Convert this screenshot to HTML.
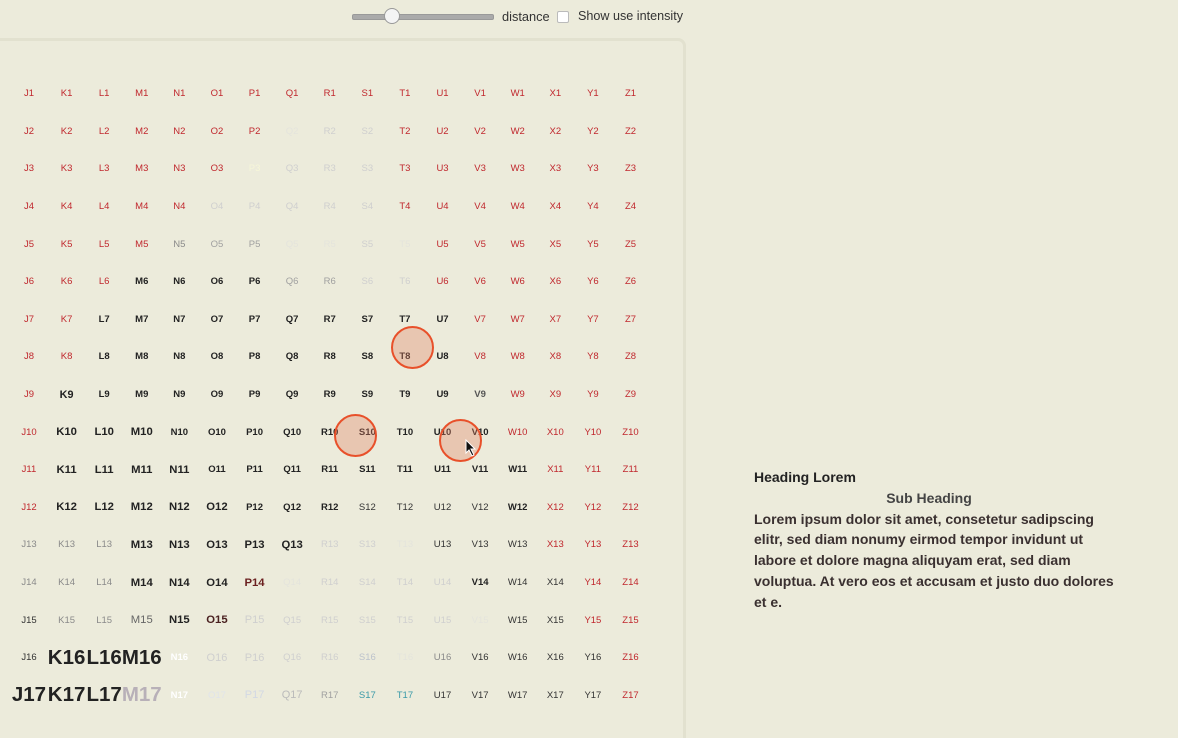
<!DOCTYPE html>
<html><head><meta charset="utf-8"><style>
body{margin:0;width:1178px;height:719px;background:#ecebdb;font-family:"Liberation Sans",Arial,sans-serif;position:relative;overflow:hidden}
.panel{position:absolute;left:-10px;top:38px;width:696px;height:700px;border-top:3px solid #e2e1cf;border-right:3px solid #e2e1cf;border-radius:0 8px 0 0;box-sizing:border-box}
.grid{position:absolute;left:10.2px;top:75px;display:grid;grid-template-columns:repeat(17,37.6px);grid-auto-rows:37.6px}
.grid div{display:flex;align-items:center;justify-content:center;white-space:nowrap;font-size:9.5px;overflow:visible}
.r{color:#c0272d}.k{color:#222;font-weight:bold}.b{color:#222;font-weight:bold;font-size:11.3px!important}
.d{color:#333}.g{color:#8a8a8a}.f{color:#cfcfcf}.ff{color:#e4e4dc}.g2{color:#a0a0a0}
.h{color:#222;font-weight:bold;font-size:20.5px!important}.w{color:#fff;font-weight:bold}
.t{color:#3a9aa8}
.c{position:absolute;width:40px;height:40px;border-radius:50%;border:2px solid #e8502a;background:rgba(225,130,100,.35);box-sizing:border-box}
.txt{position:absolute;left:754px;top:467px;width:360px;font-weight:bold;font-size:14px;line-height:20.8px;color:#3a3030}
</style></head><body>
<div style="position:absolute;left:352px;top:14px;width:140px;height:4px;background:#aaa;border-radius:2px;border:1px solid #999"></div>
<div style="position:absolute;left:384px;top:8px;width:14px;height:14px;border-radius:50%;background:#f4f4f4;border:1px solid #999"></div>
<div style="position:absolute;left:502px;top:9px;font-size:12.8px;color:#333">distance</div>
<div style="position:absolute;left:557px;top:11px;width:10px;height:10px;background:#fff;border:1px solid #bbb;border-radius:2px"></div>
<div style="position:absolute;left:578px;top:9px;font-size:12.6px;color:#333">Show use intensity</div>
<div class="panel"></div>
<div class="grid">
<div class="r">J1</div><div class="r">K1</div><div class="r">L1</div><div class="r">M1</div><div class="r">N1</div><div class="r">O1</div><div class="r">P1</div><div class="r">Q1</div><div class="r">R1</div><div class="r">S1</div><div class="r">T1</div><div class="r">U1</div><div class="r">V1</div><div class="r">W1</div><div class="r">X1</div><div class="r">Y1</div><div class="r">Z1</div>
<div class="r">J2</div><div class="r">K2</div><div class="r">L2</div><div class="r">M2</div><div class="r">N2</div><div class="r">O2</div><div class="r">P2</div><div class="ff">Q2</div><div class="f">R2</div><div class="f">S2</div><div class="r">T2</div><div class="r">U2</div><div class="r">V2</div><div class="r">W2</div><div class="r">X2</div><div class="r">Y2</div><div class="r">Z2</div>
<div class="r">J3</div><div class="r">K3</div><div class="r">L3</div><div class="r">M3</div><div class="r">N3</div><div class="r">O3</div><div style="color:#f6f6d8">P3</div><div class="f">Q3</div><div class="f">R3</div><div class="f">S3</div><div class="r">T3</div><div class="r">U3</div><div class="r">V3</div><div class="r">W3</div><div class="r">X3</div><div class="r">Y3</div><div class="r">Z3</div>
<div class="r">J4</div><div class="r">K4</div><div class="r">L4</div><div class="r">M4</div><div class="r">N4</div><div class="f">O4</div><div class="f">P4</div><div class="f">Q4</div><div class="f">R4</div><div class="f">S4</div><div class="r">T4</div><div class="r">U4</div><div class="r">V4</div><div class="r">W4</div><div class="r">X4</div><div class="r">Y4</div><div class="r">Z4</div>
<div class="r">J5</div><div class="r">K5</div><div class="r">L5</div><div class="r">M5</div><div class="g">N5</div><div class="g2">O5</div><div class="g2">P5</div><div class="ff">Q5</div><div class="ff">R5</div><div class="f">S5</div><div class="ff">T5</div><div class="r">U5</div><div class="r">V5</div><div class="r">W5</div><div class="r">X5</div><div class="r">Y5</div><div class="r">Z5</div>
<div class="r">J6</div><div class="r">K6</div><div class="r">L6</div><div class="k">M6</div><div class="k">N6</div><div class="k">O6</div><div class="k">P6</div><div class="g2">Q6</div><div class="g2">R6</div><div class="f">S6</div><div class="f">T6</div><div class="r">U6</div><div class="r">V6</div><div class="r">W6</div><div class="r">X6</div><div class="r">Y6</div><div class="r">Z6</div>
<div class="r">J7</div><div class="r">K7</div><div class="k">L7</div><div class="k">M7</div><div class="k">N7</div><div class="k">O7</div><div class="k">P7</div><div class="k">Q7</div><div class="k">R7</div><div class="k">S7</div><div class="k">T7</div><div class="k">U7</div><div class="r">V7</div><div class="r">W7</div><div class="r">X7</div><div class="r">Y7</div><div class="r">Z7</div>
<div class="r">J8</div><div class="r">K8</div><div class="k">L8</div><div class="k">M8</div><div class="k">N8</div><div class="k">O8</div><div class="k">P8</div><div class="k">Q8</div><div class="k">R8</div><div class="k">S8</div><div class="k">T8</div><div class="k">U8</div><div class="r">V8</div><div class="r">W8</div><div class="r">X8</div><div class="r">Y8</div><div class="r">Z8</div>
<div class="r">J9</div><div class="b" style="font-size:10.8px!important">K9</div><div class="k">L9</div><div class="k">M9</div><div class="k">N9</div><div class="k">O9</div><div class="k">P9</div><div class="k">Q9</div><div class="k">R9</div><div class="k">S9</div><div class="k">T9</div><div class="k">U9</div><div class="k" style="color:#555">V9</div><div class="r">W9</div><div class="r">X9</div><div class="r">Y9</div><div class="r">Z9</div>
<div class="r">J10</div><div class="b">K10</div><div class="b">L10</div><div class="b">M10</div><div class="k">N10</div><div class="k">O10</div><div class="k">P10</div><div class="k">Q10</div><div class="k">R10</div><div class="k">S10</div><div class="k">T10</div><div class="k">U10</div><div class="k">V10</div><div class="r">W10</div><div class="r">X10</div><div class="r">Y10</div><div class="r">Z10</div>
<div class="r">J11</div><div class="b">K11</div><div class="b">L11</div><div class="b">M11</div><div class="b">N11</div><div class="k">O11</div><div class="k">P11</div><div class="k">Q11</div><div class="k">R11</div><div class="k">S11</div><div class="k">T11</div><div class="k">U11</div><div class="k">V11</div><div class="k">W11</div><div class="r">X11</div><div class="r">Y11</div><div class="r">Z11</div>
<div class="r">J12</div><div class="b">K12</div><div class="b">L12</div><div class="b">M12</div><div class="b">N12</div><div class="b">O12</div><div class="k">P12</div><div class="k">Q12</div><div class="k">R12</div><div class="d">S12</div><div class="d">T12</div><div class="d">U12</div><div class="d">V12</div><div class="k">W12</div><div class="r">X12</div><div class="r">Y12</div><div class="r">Z12</div>
<div class="g">J13</div><div class="g">K13</div><div class="g">L13</div><div class="b">M13</div><div class="b">N13</div><div class="b">O13</div><div class="b">P13</div><div class="b">Q13</div><div class="f">R13</div><div class="f">S13</div><div class="ff">T13</div><div class="d">U13</div><div class="d">V13</div><div class="d">W13</div><div class="r">X13</div><div class="r">Y13</div><div class="r">Z13</div>
<div class="g">J14</div><div class="g">K14</div><div class="g">L14</div><div class="b">M14</div><div class="b">N14</div><div class="b">O14</div><div class="b" style="color:#6b2020">P14</div><div class="ff">Q14</div><div class="f">R14</div><div class="f">S14</div><div class="f">T14</div><div class="f">U14</div><div class="k">V14</div><div class="d">W14</div><div class="d">X14</div><div class="r">Y14</div><div class="r">Z14</div>
<div class="d">J15</div><div class="g">K15</div><div class="g">L15</div><div class="b" style="color:#666;font-weight:normal">M15</div><div class="b">N15</div><div class="b" style="color:#4a2020">O15</div><div class="f" style="font-size:11px">P15</div><div class="f">Q15</div><div class="f">R15</div><div class="f">S15</div><div class="f">T15</div><div class="f">U15</div><div class="ff">V15</div><div class="d">W15</div><div class="d">X15</div><div class="r">Y15</div><div class="r">Z15</div>
<div class="d">J16</div><div class="h">K16</div><div class="h">L16</div><div class="h">M16</div><div class="w">N16</div><div class="f" style="font-size:11px">O16</div><div class="f" style="font-size:11px">P16</div><div class="f">Q16</div><div class="f">R16</div><div style="color:#bcc2cc">S16</div><div class="ff">T16</div><div class="g">U16</div><div class="d">V16</div><div class="d">W16</div><div class="d">X16</div><div class="d">Y16</div><div class="r">Z16</div>
<div class="h">J17</div><div class="h">K17</div><div class="h">L17</div><div class="h" style="color:#b8b0b8">M17</div><div class="w">N17</div><div style="color:#e0e4ea">O17</div><div style="color:#d2d8e4;font-size:11px">P17</div><div style="color:#bbb;font-size:11px">Q17</div><div class="g2">R17</div><div class="t">S17</div><div class="t">T17</div><div class="d">U17</div><div class="d">V17</div><div class="d">W17</div><div class="d">X17</div><div class="d">Y17</div><div class="r">Z17</div>
</div>
<div class="c" style="left:391px;top:326px;width:43px;height:43px"></div>
<div class="c" style="left:334px;top:414px;width:43px;height:43px"></div>
<div class="c" style="left:439px;top:419px;width:43px;height:43px"></div>
<svg style="position:absolute;left:465px;top:439px" width="12" height="18"><path d="M1 1 L1 14 L4 11 L7 17 L9 16 L6 10 L10 10 Z" fill="#111" stroke="#fff" stroke-width="1"/></svg>
<div class="txt"><div style="color:#222">Heading Lorem</div><div style="text-align:center;padding-right:10px;color:#444">Sub Heading</div><div>Lorem ipsum dolor sit amet, consetetur sadipscing elitr, sed diam nonumy eirmod tempor invidunt ut labore et dolore magna aliquyam erat, sed diam voluptua. At vero eos et accusam et justo duo dolores et e.</div></div>
</body></html>
